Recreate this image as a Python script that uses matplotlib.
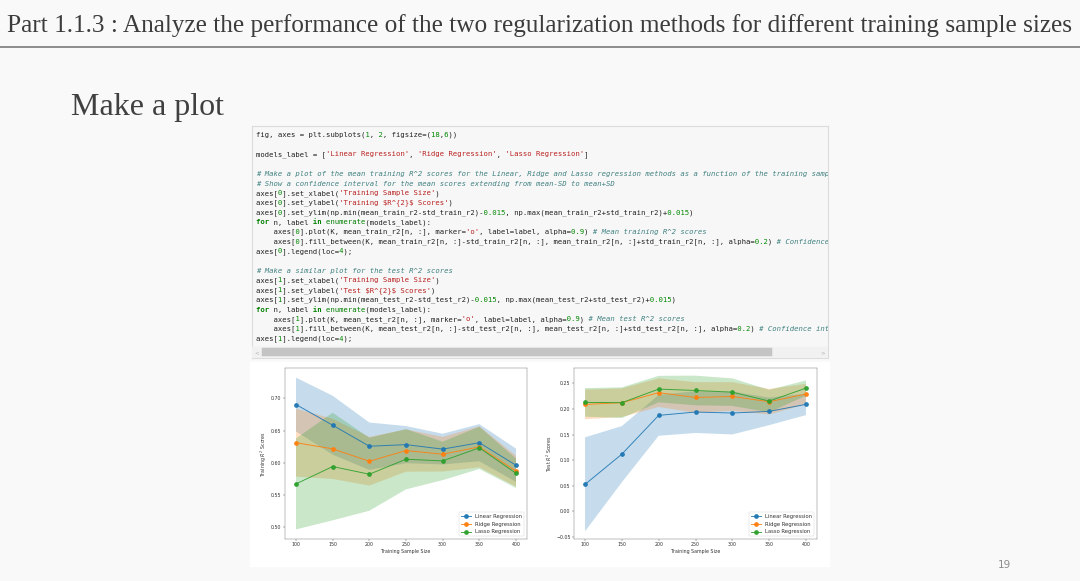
import re
import numpy as np
import matplotlib
matplotlib.use("Agg")
import matplotlib.pyplot as plt
from matplotlib.patches import Rectangle

# ---- data ----
K = [100, 150, 200, 250, 300, 350, 400]
models_label = ['Linear Regression', 'Ridge Regression', 'Lasso Regression']

mean_train_r2 = np.array([
    [0.6906, 0.6583, 0.6255, 0.6280, 0.6210, 0.6310, 0.5958],
    [0.6310, 0.6214, 0.6020, 0.6188, 0.6130, 0.6245, 0.5865],
    [0.5667, 0.5938, 0.5818, 0.6052, 0.6026, 0.6230, 0.5833],
])
std_train_r2 = np.array([
    [0.042, 0.046, 0.037, 0.029, 0.024, 0.029, 0.026],
    [0.053, 0.047, 0.038, 0.033, 0.027, 0.032, 0.024],
    [0.071, 0.084, 0.057, 0.047, 0.030, 0.033, 0.023],
])
mean_test_r2 = np.array([
    [0.0526, 0.1117, 0.1876, 0.1941, 0.1922, 0.1954, 0.2091],
    [0.2090, 0.2124, 0.2320, 0.2226, 0.2246, 0.2143, 0.2293],
    [0.2130, 0.2124, 0.2390, 0.2363, 0.2330, 0.2156, 0.2409],
])
std_test_r2 = np.array([
    [0.092, 0.055, 0.040, 0.041, 0.042, 0.027, 0.021],
    [0.029, 0.028, 0.028, 0.030, 0.028, 0.025, 0.020],
    [0.028, 0.030, 0.026, 0.029, 0.027, 0.022, 0.015],
])

slide_title = "Part 1.1.3 : Analyze the performance of the two regularization methods for different training sample sizes"
subtitle = "Make a plot"
page_no = "19"

code_lines = [
    "fig, axes = plt.subplots(1, 2, figsize=(18,6))",
    "",
    "models_label = ['Linear Regression', 'Ridge Regression', 'Lasso Regression']",
    "",
    "# Make a plot of the mean training R^2 scores for the Linear, Ridge and Lasso regression methods as a function of the training sample size",
    "# Show a confidence interval for the mean scores extending from mean-SD to mean+SD",
    "axes[0].set_xlabel('Training Sample Size')",
    "axes[0].set_ylabel('Training $R^{2}$ Scores')",
    "axes[0].set_ylim(np.min(mean_train_r2-std_train_r2)-0.015, np.max(mean_train_r2+std_train_r2)+0.015)",
    "for n, label in enumerate(models_label):",
    "    axes[0].plot(K, mean_train_r2[n, :], marker='o', label=label, alpha=0.9) # Mean training R^2 scores",
    "    axes[0].fill_between(K, mean_train_r2[n, :]-std_train_r2[n, :], mean_train_r2[n, :]+std_train_r2[n, :], alpha=0.2) # Confidence interval",
    "axes[0].legend(loc=4);",
    "",
    "# Make a similar plot for the test R^2 scores",
    "axes[1].set_xlabel('Training Sample Size')",
    "axes[1].set_ylabel('Test $R^{2}$ Scores')",
    "axes[1].set_ylim(np.min(mean_test_r2-std_test_r2)-0.015, np.max(mean_test_r2+std_test_r2)+0.015)",
    "for n, label in enumerate(models_label):",
    "    axes[1].plot(K, mean_test_r2[n, :], marker='o', label=label, alpha=0.9) # Mean test R^2 scores",
    "    axes[1].fill_between(K, mean_test_r2[n, :]-std_test_r2[n, :], mean_test_r2[n, :]+std_test_r2[n, :], alpha=0.2) # Confidence interval",
    "axes[1].legend(loc=4);",
]

W, H = 1080, 581
bg = '#f9f9f9'

# embedded notebook figure is shrunk, so scale all point sizes
s = 0.34
plt.rcParams.update({
    'font.size': 10 * s,
    'lines.linewidth': 2.0 * s,
    'lines.markersize': 7.2 * s,
    'axes.linewidth': 0.8 * s,
    'axes.labelpad': 4 * s,
    'xtick.major.size': 3.5 * s, 'ytick.major.size': 3.5 * s,
    'xtick.major.width': 0.8 * s, 'ytick.major.width': 0.8 * s,
    'xtick.major.pad': 3.5 * s, 'ytick.major.pad': 3.5 * s,
    'patch.linewidth': 1.0 * s,
    'legend.fontsize': 11 * s,
    'text.color': '#333333', 'axes.labelcolor': '#333333',
    'xtick.color': '#333333', 'ytick.color': '#333333',
    'axes.edgecolor': '#555555',
})

fig = plt.figure(figsize=(W / 100, H / 100), dpi=100, facecolor=bg)

def fx(px):
    return px / W

def fy(py):
    return 1 - py / H

# slide header
fig.text(fx(7), fy(26), slide_title, family='Liberation Serif', fontsize=18.15,
         color='#3c3c3c', va='center', ha='left')
fig.add_artist(plt.Line2D([0, 1], [fy(47), fy(47)], color='#7a7a7a', lw=1.2))
fig.text(fx(71), fy(107), subtitle, family='Liberation Serif', fontsize=23,
         color='#404040', va='center', ha='left')
fig.text(fx(1004), fy(565), page_no, family='DejaVu Sans', fontsize=7.5,
         color='#8c8c8c', va='center', ha='center')

# ---- code cell ----
cx0, cx1, cy0, cy1 = 252, 828, 126, 358
axc = fig.add_axes([fx(cx0), fy(cy1), fx(cx1 - cx0), (cy1 - cy0) / H])
axc.set_xlim(cx0, cx1)
axc.set_ylim(cy1, cy0)
axc.set_facecolor('#f7f7f7')
for sp in axc.spines.values():
    sp.set_color('#dcdcdc')
    sp.set_linewidth(0.8)
axc.set_xticks([])
axc.set_yticks([])

tok = re.compile(r"(#.*$)|('[^']*')|(\b\d+\.?\d*\b)|(\b(?:for|in)\b)|(\benumerate\b)")
# colour / style per token class (0 = plain)
styles = {
    0: ('#222222', 'normal', 'normal'),
    1: ('#408080', 'italic', 'normal'),
    2: ('#ba2121', 'normal', 'normal'),
    3: ('#008800', 'normal', 'normal'),
    4: ('#008000', 'normal', 'bold'),
    5: ('#008000', 'normal', 'normal'),
}
for i, line in enumerate(code_lines):
    if not line:
        continue
    y = 135 + i * 9.7
    cls = [0] * len(line)
    for m in tok.finditer(line):
        k = m.lastindex
        for j in range(m.start(), m.end()):
            cls[j] = k
    # one full-width string per class, other chars blanked -> exact mono alignment
    for k, (c, st, wt) in styles.items():
        if k not in cls:
            continue
        txt = ''.join(ch if cls[j] == k else ' ' for j, ch in enumerate(line))
        axc.text(256, y, txt, family='DejaVu Sans Mono', fontsize=5.26,
                 color=c, style=st, weight=wt, va='center', ha='left',
                 clip_on=True, parse_math=False)

# scrollbar
axc.add_patch(Rectangle((cx0, 347), cx1 - cx0, 11, color='#f1f1f1', zorder=3))
axc.add_patch(Rectangle((262, 348.5), 510, 8, color='#c4c4c4', zorder=4))
axc.text(257, 352.5, '<', fontsize=4, color='#b0b0b0', ha='center', va='center', zorder=5)
axc.text(823, 352.5, '>', fontsize=4, color='#b0b0b0', ha='center', va='center', zorder=5)

# ---- output image of the notebook ----
fig.add_artist(Rectangle((fx(250), fy(567)), fx(580), (567 - 362) / H,
                         transform=fig.transFigure, color='white', zorder=0))

axes = [fig.add_axes([fx(285), fy(539), fx(242), 171 / H]),
        fig.add_axes([fx(574), fy(539), fx(243), 171 / H])]

axes[0].set_xlabel('Training Sample Size')
axes[0].set_ylabel('Training $R^{2}$ Scores')
axes[0].set_ylim(np.min(mean_train_r2 - std_train_r2) - 0.015, np.max(mean_train_r2 + std_train_r2) + 0.015)
for n, label in enumerate(models_label):
    axes[0].plot(K, mean_train_r2[n, :], marker='o', label=label, alpha=0.9)
    axes[0].fill_between(K, mean_train_r2[n, :] - std_train_r2[n, :],
                         mean_train_r2[n, :] + std_train_r2[n, :], alpha=0.25, lw=0)
axes[0].legend(loc=4)

axes[1].set_xlabel('Training Sample Size')
axes[1].set_ylabel('Test $R^{2}$ Scores')
axes[1].set_ylim(np.min(mean_test_r2 - std_test_r2) - 0.015, np.max(mean_test_r2 + std_test_r2) + 0.015)
for n, label in enumerate(models_label):
    axes[1].plot(K, mean_test_r2[n, :], marker='o', label=label, alpha=0.9)
    axes[1].fill_between(K, mean_test_r2[n, :] - std_test_r2[n, :],
                         mean_test_r2[n, :] + std_test_r2[n, :], alpha=0.25, lw=0)
axes[1].legend(loc=4)

fig.savefig('out.png', dpi=100, facecolor=bg)
